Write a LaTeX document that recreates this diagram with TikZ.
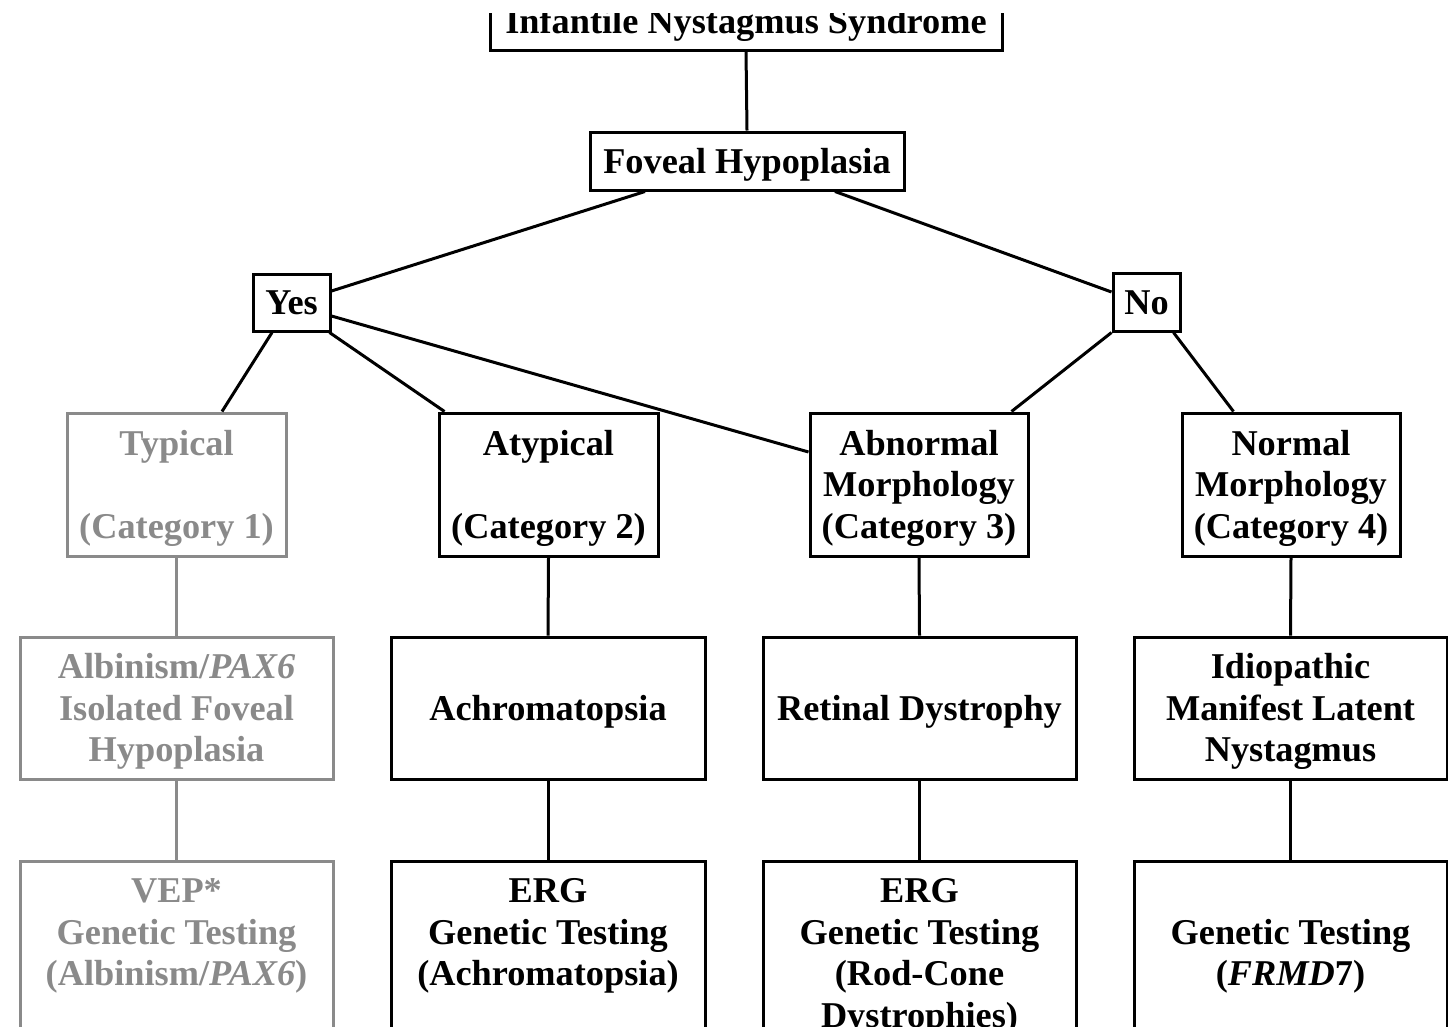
\documentclass[tikz,border=0pt]{standalone}
\usepackage{fontspec}
\setmainfont{Liberation Serif}
\usetikzlibrary{calc}
\definecolor{catgray}{RGB}{138,138,138}
\newcommand{\ls}{\rule[-8.75pt]{0pt}{41.5pt}}
\begin{document}
\begin{tikzpicture}[x=1pt,y=-1pt,
  box/.style={draw=black, line width=3pt, inner sep=0pt, align=center,
    font=\fontsize{36.3}{41.5}\selectfont\bfseries, text=black},
  graybox/.style={box, draw=catgray, text=catgray},
  conn/.style={line width=3pt, black},
  grayconn/.style={line width=3pt, catgray}]
\useasboundingbox (0,0) rectangle (1448,1026);
\fill[white] (0,0) rectangle (1448,1026);
\begin{scope}
\clip (0,13) rectangle (1448,1026);
% top
\node[box, minimum width=512, minimum height=58] (title) at (746,21) {\ls Infantile Nystagmus Syndrome};
\node[box, minimum width=314, minimum height=58] (fov) at (747,161) {\ls Foveal Hypoplasia};
\node[box, minimum width=77, minimum height=57] (yes) at (291.5,302.5) {\ls Yes};
\node[box, minimum width=67, minimum height=58] (no) at (1146.5,302) {\ls No};
% row 3
\node[graybox, minimum width=219, minimum height=143] (typ) at (176.5,484.5) {\ls Typical\\\ls\\\ls (Category 1)};
\node[box, minimum width=219, minimum height=143] (atyp) at (548.5,484.5) {\ls Atypical\\\ls\\\ls (Category 2)};
\node[box, minimum width=218, minimum height=143] (abn) at (919,484.5) {\ls Abnormal\\\ls Morphology\\\ls (Category 3)};
\node[box, minimum width=218, minimum height=143] (norm) at (1291,484.5) {\ls Normal\\\ls Morphology\\\ls (Category 4)};
% row 4
\node[graybox, minimum width=313, minimum height=142] (alb) at (176.5,708) {\ls Albinism/\textit{PAX6}\\\ls Isolated Foveal\\\ls Hypoplasia};
\node[box, minimum width=314, minimum height=142] (achro) at (548,708) {\ls Achromatopsia};
\node[box, minimum width=313, minimum height=142] (ret) at (919.5,708) {\ls Retinal Dystrophy};
\node[box, minimum width=313, minimum height=142] (idio) at (1290.5,708) {\ls Idiopathic\\\ls Manifest Latent\\\ls Nystagmus};
% row 5
\node[graybox, minimum width=313, minimum height=184] (vep) at (176.5,953) {\ls VEP*\\\ls Genetic Testing\\\ls (Albinism/\textit{PAX6})\\\ls};
\node[box, minimum width=314, minimum height=184] (erga) at (548,953) {\ls ERG\\\ls Genetic Testing\\\ls (Achromatopsia)\\\ls};
\node[box, minimum width=313, minimum height=184] (ergr) at (919.5,953) {\ls ERG\\\ls Genetic Testing\\\ls (Rod-Cone\\\ls Dystrophies)};
\node[box, minimum width=313, minimum height=184] (gen) at (1290.5,953) {\ls\\\ls Genetic Testing\\\ls (\textit{FRMD}7)\\\ls};
% connectors
\draw[conn] (title.south) -- (fov.north);
\draw[conn] ([xshift=-102pt]fov.south) -- ([yshift=11.5pt]yes.east);
\draw[conn] ([xshift=88pt]fov.south) -- ([yshift=10pt]no.west);
\draw[conn] ([xshift=-19.5pt]yes.south) -- ([xshift=45.5pt]typ.north);
\draw[conn] ([xshift=-2pt]yes.south east) -- ([xshift=7pt]atyp.north west);
\draw[conn] ([yshift=-13.5pt]yes.east) -- ([yshift=32.5pt]abn.west);
\draw[conn] (no.south west) -- ([xshift=-18pt]abn.north east);
\draw[conn] ([xshift=-8pt]no.south east) -- ([xshift=53pt]norm.north west);
\draw[grayconn] (typ.south) -- (alb.north);
\draw[conn] (atyp.south) -- (achro.north);
\draw[conn] (abn.south) -- (ret.north);
\draw[conn] (norm.south) -- (idio.north);
\draw[grayconn] (alb.south) -- (vep.north);
\draw[conn] (achro.south) -- (erga.north);
\draw[conn] (ret.south) -- (ergr.north);
\draw[conn] (idio.south) -- (gen.north);
\end{scope}
\end{tikzpicture}
\end{document}
